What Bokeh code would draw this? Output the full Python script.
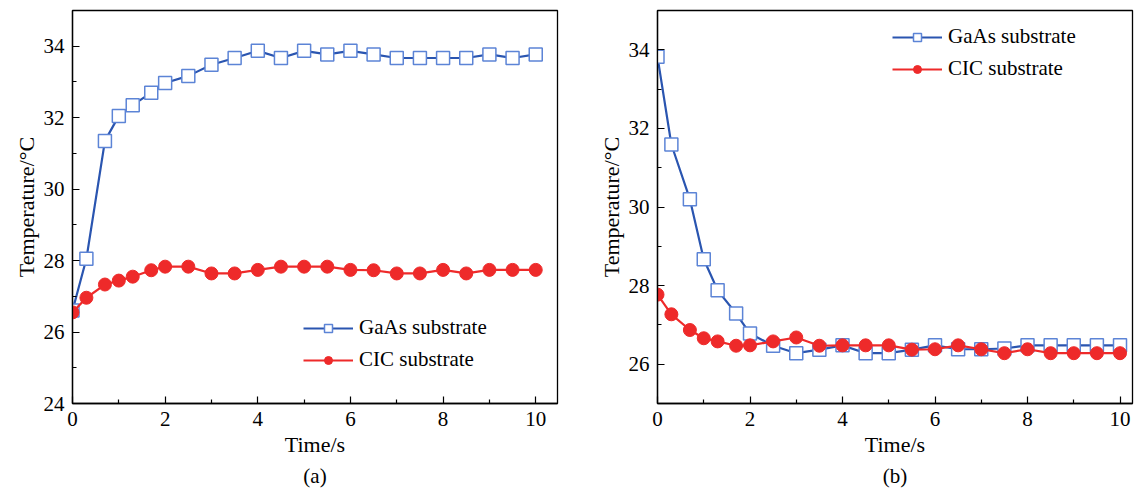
from bokeh.plotting import figure
from bokeh.layouts import row
from bokeh.models import Range1d, FixedTicker, Title
from bokeh.embed import file_html
from bokeh.resources import INLINE

# Sampling instants (s)
time_s = [0, 0.3, 0.7, 1.0, 1.3, 1.7, 2.0, 2.5, 3.0, 3.5, 4.0, 4.5,
          5.0, 5.5, 6.0, 6.5, 7.0, 7.5, 8.0, 8.5, 9.0, 9.5, 10.0]

# (a) heating: temperature (°C)
heat_gaas = [26.6, 28.05, 31.35, 32.05, 32.35, 32.7, 32.97, 33.17, 33.48, 33.67, 33.87, 33.67,
             33.87, 33.77, 33.87, 33.77, 33.67, 33.67, 33.67, 33.67, 33.77, 33.67, 33.77]
heat_cic = [26.55, 26.96, 27.33, 27.44, 27.55, 27.73, 27.83, 27.83, 27.64, 27.64, 27.74, 27.83,
            27.83, 27.83, 27.74, 27.73, 27.64, 27.64, 27.74, 27.64, 27.74, 27.74, 27.74]

# (b) cooling: temperature (°C)
cool_gaas = [33.82, 31.59, 30.2, 28.67, 27.88, 27.29, 26.78, 26.47, 26.28, 26.37, 26.48, 26.28,
             26.28, 26.37, 26.48, 26.38, 26.38, 26.4, 26.48, 26.48, 26.48, 26.48, 26.48]
cool_cic = [27.77, 27.27, 26.87, 26.66, 26.58, 26.47, 26.48, 26.58, 26.68, 26.47, 26.48, 26.48,
            26.48, 26.37, 26.38, 26.48, 26.38, 26.28, 26.38, 26.28, 26.28, 26.28, 26.28]

series_names = ["GaAs substrate", "CIC substrate"]
panel_tags = ["(a)", "(b)"]
x_title = "Time/s"
y_title = "Temperature/°C"

FONT = "Liberation Serif"
BLUE_LINE = "#2a55b0"
BLUE_EDGE = "#5c84d6"
RED = "#ee2a2a"


def text_title(text, size, standoff):
    return Title(text=text, align="center", text_font=FONT, text_font_size=size,
                 text_font_style="normal", text_color="black", standoff=standoff)


def make_panel(gaas, cic, tag, width, b_left, b_right, x_end, y_lo, y_hi, y_ticks, legend_xy):
    p = figure(width=width, height=496, output_backend="svg", toolbar_location=None,
               x_range=Range1d(0, x_end), y_range=Range1d(y_lo, y_hi),
               min_border_left=b_left, min_border_right=b_right,
               min_border_top=10, min_border_bottom=93)
    p.grid.visible = False
    p.outline_line_color = "black"
    p.outline_line_width = 1.3

    p.line(time_s, gaas, line_color=BLUE_LINE, line_width=2.2, legend_label=series_names[0])
    p.scatter(time_s, gaas, marker="square", size=13, fill_color="white",
              line_color=BLUE_EDGE, line_width=1.5, legend_label=series_names[0])
    p.line(time_s, cic, line_color=RED, line_width=2.2, legend_label=series_names[1])
    p.scatter(time_s, cic, marker="circle", size=13, fill_color=RED,
              line_color=RED, legend_label=series_names[1])

    p.xaxis.ticker = FixedTicker(ticks=[0, 2, 4, 6, 8, 10], minor_ticks=[1, 3, 5, 7, 9])
    p.yaxis.ticker = FixedTicker(ticks=y_ticks,
                                 minor_ticks=[t + 1 for t in range(int(y_lo), int(y_hi))])
    for ax in list(p.xaxis) + list(p.yaxis):
        ax.axis_line_width = 1.3
        ax.major_tick_in = 7
        ax.major_tick_out = 0
        ax.minor_tick_in = 4
        ax.minor_tick_out = 0
        ax.major_tick_line_width = 1.2
        ax.minor_tick_line_width = 1.2
        ax.major_label_text_font = FONT
        ax.major_label_text_font_size = "21px"
        ax.major_label_text_color = "black"
        ax.major_label_standoff = 8

    # axis titles and panel tag
    p.add_layout(text_title(x_title, "22px", 2), "below")
    p.add_layout(text_title(tag, "21px", 8), "below")
    p.add_layout(text_title(y_title, "22px", 4), "left")

    leg = p.legend[0]
    leg.location = legend_xy
    leg.border_line_color = None
    leg.background_fill_alpha = 0
    leg.padding = 0
    leg.margin = 0
    leg.spacing = 7
    leg.glyph_width = 50
    leg.glyph_height = 20
    leg.label_height = 20
    leg.label_standoff = 6
    leg.label_text_font = FONT
    leg.label_text_font_size = "21px"
    leg.label_text_color = "black"
    return p


left = make_panel(heat_gaas, heat_cic, panel_tags[0], 580, 72, 23, 10.47, 24, 35,
                  [24, 26, 28, 30, 32, 34], (231, 31))
right = make_panel(cool_gaas, cool_cic, panel_tags[1], 557, 77, 5, 10.27, 25, 35,
                   [26, 28, 30, 32, 34], (235, 322))

layout = row(left, right)
open("out.html", "w").write(file_html(layout, INLINE))
